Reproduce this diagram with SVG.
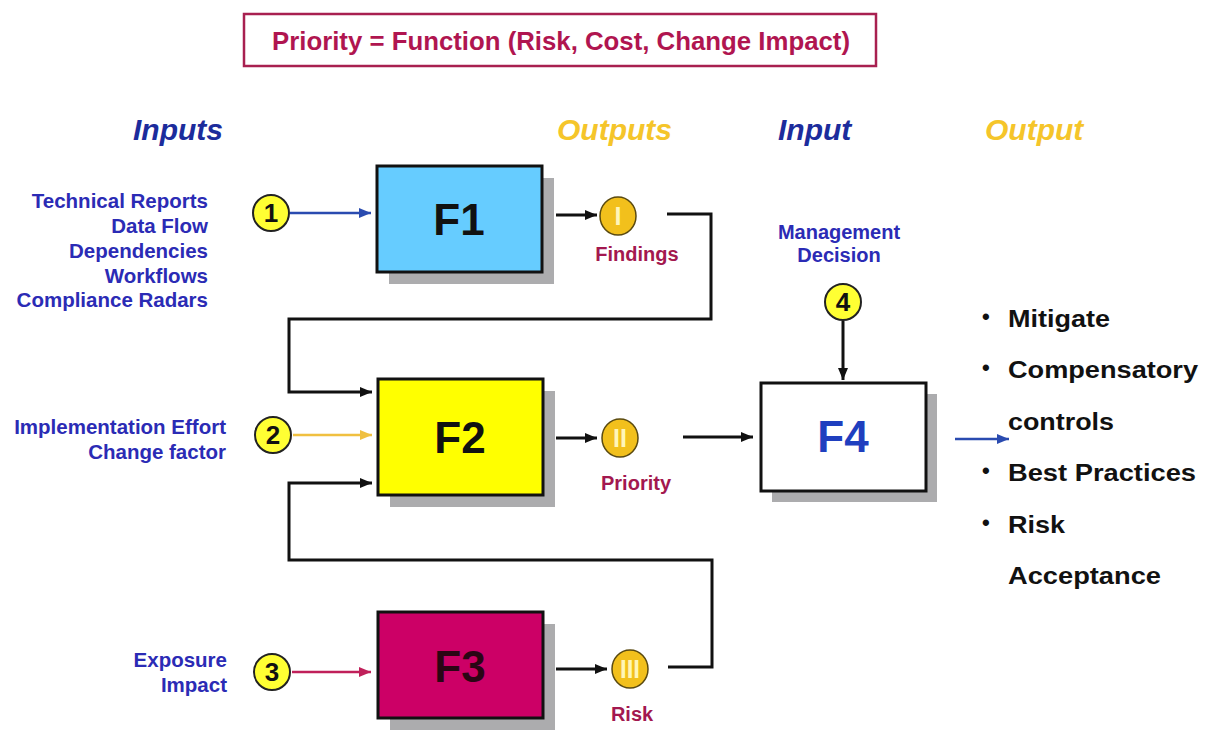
<svg xmlns="http://www.w3.org/2000/svg" width="1211" height="735" viewBox="0 0 1211 735">
  <defs>
    <style>
      .sans { font-family: "Liberation Sans", Arial, sans-serif; font-weight: bold; }
      .inlbl { font-size: 20.5px; fill: #2b2bb5; text-anchor: end; }
      .hdr { font-size: 30px; font-style: italic; }
      .hblue { fill: #1c2c9c; }
      .hgold { fill: #f5c52a; }
      .outlbl { font-size: 20px; fill: #a3184f; text-anchor: middle; }
      .fnum { font-size: 44px; text-anchor: middle; }
      .shadow { fill: #acacae; }
      .fbox { stroke: #111; stroke-width: 3; }
      .numc { fill: #ffff33; stroke: #222; stroke-width: 2; }
      .numt { font-size: 26px; fill: #111; text-anchor: middle; }
      .outc { fill: #f2c01c; stroke: #5a4a10; stroke-width: 1.5; }
      .roman { font-size: 25px; fill: #fff6b8; text-anchor: middle; }
      .conn { fill: none; stroke: #111; stroke-width: 3; }
      .list { font-size: 23px; fill: #111; }
      .bullet { font-size: 22px; fill: #111; }
    </style>
    <marker id="ahBlack" markerUnits="userSpaceOnUse" markerWidth="12" markerHeight="10" refX="12" refY="5" orient="auto">
      <path d="M0,0 L12,5 L0,10 z" fill="#111"/>
    </marker>
    <marker id="ahBlue" markerUnits="userSpaceOnUse" markerWidth="12" markerHeight="10" refX="12" refY="5" orient="auto">
      <path d="M0,0 L12,5 L0,10 z" fill="#2a4bb0"/>
    </marker>
    <marker id="ahGold" markerUnits="userSpaceOnUse" markerWidth="12" markerHeight="10" refX="12" refY="5" orient="auto">
      <path d="M0,0 L12,5 L0,10 z" fill="#f0c040"/>
    </marker>
    <marker id="ahCrimson" markerUnits="userSpaceOnUse" markerWidth="12" markerHeight="10" refX="12" refY="5" orient="auto">
      <path d="M0,0 L12,5 L0,10 z" fill="#c0205a"/>
    </marker>
  </defs>

  <rect width="1211" height="735" fill="#ffffff"/>

  <!-- formula banner -->
  <g id="formula">
    <rect x="244" y="14" width="632" height="52" fill="#ffffff" stroke="#a82050" stroke-width="2.5"/>
    <text class="sans" x="561" y="50" font-size="25" fill="#b01550" text-anchor="middle" textLength="578" lengthAdjust="spacingAndGlyphs">Priority = Function (Risk, Cost, Change Impact)</text>
  </g>

  <!-- column headings -->
  <g id="headings" class="sans hdr">
    <text class="hblue" x="133" y="140">Inputs</text>
    <text class="hgold" x="557" y="140">Outputs</text>
    <text class="hblue" x="778" y="140">Input</text>
    <text class="hgold" x="985" y="140">Output</text>
  </g>

  <!-- input descriptions -->
  <g id="inputs-1" class="sans inlbl">
    <text x="208" y="208">Technical Reports</text>
    <text x="208" y="233">Data Flow</text>
    <text x="208" y="258">Dependencies</text>
    <text x="208" y="283">Workflows</text>
    <text x="208" y="307">Compliance Radars</text>
  </g>
  <g id="inputs-2" class="sans inlbl">
    <text x="226" y="434">Implementation Effort</text>
    <text x="226" y="459">Change factor</text>
  </g>
  <g id="inputs-3" class="sans inlbl">
    <text x="227" y="667">Exposure</text>
    <text x="227" y="692">Impact</text>
  </g>
  <g id="inputs-4" class="sans" font-size="20" fill="#2b2bb5" text-anchor="middle">
    <text x="839" y="239">Management</text>
    <text x="839" y="262">Decision</text>
  </g>

  <!-- connectors -->
  <g id="connectors">
    <line x1="290" y1="213" x2="371" y2="213" stroke="#2a4bb0" stroke-width="2.5" marker-end="url(#ahBlue)"/>
    <line x1="293" y1="435" x2="372" y2="435" stroke="#f0c040" stroke-width="2.5" marker-end="url(#ahGold)"/>
    <line x1="292" y1="672" x2="371" y2="672" stroke="#c0205a" stroke-width="2.5" marker-end="url(#ahCrimson)"/>
    <line x1="556" y1="215" x2="597" y2="215" class="conn" marker-end="url(#ahBlack)"/>
    <line x1="556" y1="438" x2="597" y2="438" class="conn" marker-end="url(#ahBlack)"/>
    <line x1="556" y1="669" x2="607" y2="669" class="conn" marker-end="url(#ahBlack)"/>
    <path class="conn" d="M667,214 H711 V319 H289 V392 H360"/>
    <line x1="360" y1="392" x2="372" y2="392" class="conn" marker-end="url(#ahBlack)"/>
    <path class="conn" d="M668,667 H712 V560 H289 V483 H360"/>
    <line x1="360" y1="483" x2="372" y2="483" class="conn" marker-end="url(#ahBlack)"/>
    <line x1="683" y1="437" x2="753" y2="437" class="conn" marker-end="url(#ahBlack)"/>
    <line x1="843" y1="321" x2="843" y2="380" class="conn" marker-end="url(#ahBlack)"/>
    <line x1="955" y1="439" x2="1009" y2="439" stroke="#2a4bb0" stroke-width="2.5" marker-end="url(#ahBlue)"/>
  </g>

  <!-- input markers -->
  <g id="in1">
    <circle class="numc" cx="271" cy="213" r="18"/>
    <text class="sans numt" x="271" y="222">1</text>
  </g>
  <g id="in2">
    <circle class="numc" cx="273" cy="435" r="18"/>
    <text class="sans numt" x="273" y="444">2</text>
  </g>
  <g id="in3">
    <circle class="numc" cx="272" cy="672" r="18"/>
    <text class="sans numt" x="272" y="681">3</text>
  </g>
  <g id="in4">
    <circle class="numc" cx="843" cy="302" r="18"/>
    <text class="sans numt" x="843" y="311" font-size="22">4</text>
  </g>

  <!-- function blocks -->
  <g id="F1">
    <rect class="shadow" x="389" y="178" width="165" height="106"/>
    <rect class="fbox" x="377" y="166" width="165" height="106" fill="#66ccff"/>
    <text class="sans fnum" x="459" y="235" fill="#111">F1</text>
  </g>
  <g id="F2">
    <rect class="shadow" x="390" y="391" width="165" height="116"/>
    <rect class="fbox" x="378" y="379" width="165" height="116" fill="#ffff00"/>
    <text class="sans fnum" x="460" y="453" fill="#111">F2</text>
  </g>
  <g id="F3">
    <rect class="shadow" x="390" y="624" width="165" height="106"/>
    <rect class="fbox" x="378" y="612" width="165" height="106" fill="#cc0066"/>
    <text class="sans fnum" x="460" y="682" fill="#2a0614">F3</text>
  </g>
  <g id="F4">
    <rect class="shadow" x="772" y="394" width="165" height="108"/>
    <rect class="fbox" x="761" y="383" width="165" height="108" fill="#ffffff"/>
    <text class="sans fnum" x="843" y="452" fill="#1f3fbf">F4</text>
  </g>

  <!-- outputs -->
  <g id="out1">
    <ellipse class="outc" cx="618" cy="216" rx="18" ry="19"/>
    <text class="sans roman" x="618" y="225">I</text>
    <text class="sans outlbl" x="637" y="261">Findings</text>
  </g>
  <g id="out2">
    <ellipse class="outc" cx="620" cy="438" rx="18" ry="19"/>
    <text class="sans roman" x="620" y="447">II</text>
    <text class="sans outlbl" x="636" y="490">Priority</text>
  </g>
  <g id="out3">
    <ellipse class="outc" cx="630" cy="669" rx="18" ry="19"/>
    <text class="sans roman" x="630" y="678" textLength="20" lengthAdjust="spacingAndGlyphs">III</text>
    <text class="sans outlbl" x="632" y="721">Risk</text>
  </g>

  <!-- actions -->
  <g id="actions" class="sans">
    <text class="bullet" x="982" y="324">•</text>
    <text class="list" x="1008" y="327" textLength="102" lengthAdjust="spacingAndGlyphs">Mitigate</text>
    <text class="bullet" x="982" y="375">•</text>
    <text class="list" x="1008" y="378" textLength="190" lengthAdjust="spacingAndGlyphs">Compensatory</text>
    <text class="list" x="1008" y="430" textLength="106" lengthAdjust="spacingAndGlyphs">controls</text>
    <text class="bullet" x="982" y="478">•</text>
    <text class="list" x="1008" y="481" textLength="188" lengthAdjust="spacingAndGlyphs">Best Practices</text>
    <text class="bullet" x="982" y="530">•</text>
    <text class="list" x="1008" y="533" textLength="57" lengthAdjust="spacingAndGlyphs">Risk</text>
    <text class="list" x="1008" y="584" textLength="153" lengthAdjust="spacingAndGlyphs">Acceptance</text>
  </g>
</svg>
